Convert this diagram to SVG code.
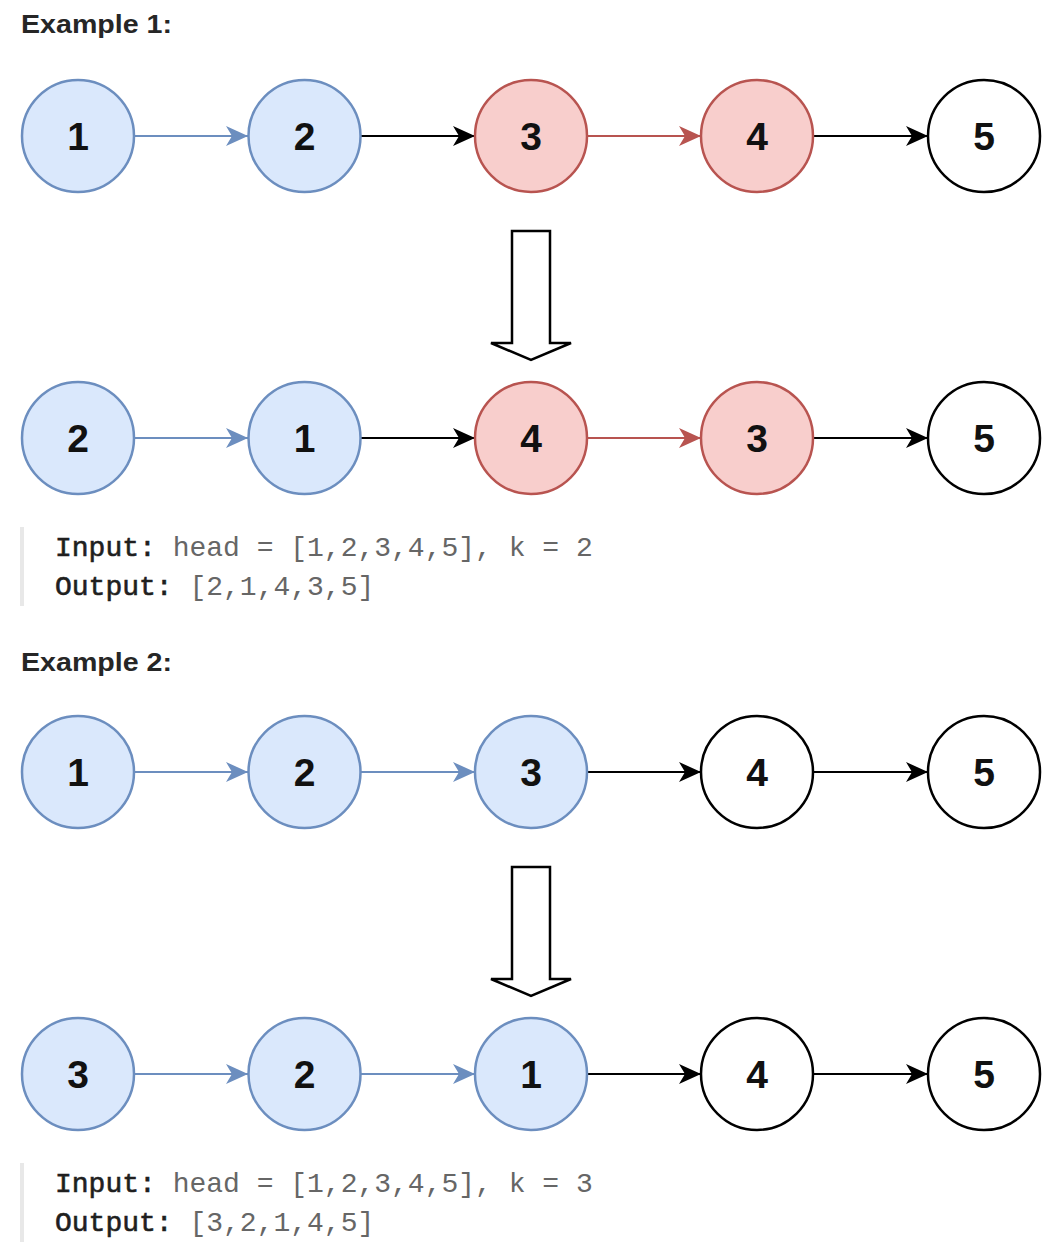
<svg xmlns="http://www.w3.org/2000/svg" width="1060" height="1250" viewBox="0 0 1060 1250">
  <style>
    .heading { font-family: "Liberation Sans", Arial, sans-serif; font-weight: bold; font-size: 25px; fill: #262626; }
    .num { font-family: "Liberation Sans", Arial, sans-serif; font-weight: bold; font-size: 39px; fill: #111; text-anchor: middle; }
    .blue { fill: #dae8fc; stroke: #6c8ebf; stroke-width: 2.5; }
    .red { fill: #f8cecc; stroke: #b85450; stroke-width: 2.5; }
    .plain { fill: #ffffff; stroke: #000000; stroke-width: 2.5; }
    .link { stroke-width: 2.2; fill: none; }
    .lb { stroke: #6c8ebf; marker-end: url(#head-blue); }
    .lr { stroke: #b85450; marker-end: url(#head-red); }
    .lk { stroke: #000000; marker-end: url(#head-black); }
    .bigarrow { fill: #ffffff; stroke: #000000; stroke-width: 2.5; stroke-linejoin: miter; }
    .code { font-family: "Liberation Mono", "Courier New", monospace; font-size: 28px; fill: #666666; }
    .label { fill: #1f1f1f; stroke: #1f1f1f; stroke-width: 0.6; }
    .bar { fill: #e8e8e8; }
  </style>
  <defs>
    <marker id="head-blue" markerUnits="userSpaceOnUse" markerWidth="24" markerHeight="22" viewBox="0 0 24 22" refX="23" refY="11" orient="auto">
      <path d="M1,1 L23,11 L1,21 L7,11 Z" fill="#6c8ebf"/>
    </marker>
    <marker id="head-red" markerUnits="userSpaceOnUse" markerWidth="24" markerHeight="22" viewBox="0 0 24 22" refX="23" refY="11" orient="auto">
      <path d="M1,1 L23,11 L1,21 L7,11 Z" fill="#b85450"/>
    </marker>
    <marker id="head-black" markerUnits="userSpaceOnUse" markerWidth="24" markerHeight="22" viewBox="0 0 24 22" refX="23" refY="11" orient="auto">
      <path d="M1,1 L23,11 L1,21 L7,11 Z" fill="#000000"/>
    </marker>
  </defs>
  <rect width="1060" height="1250" fill="#ffffff"/>

  <!-- Example 1 -->
  <text class="heading" x="21" y="33" textLength="151" lengthAdjust="spacingAndGlyphs">Example 1:</text>

  <g id="connectors">
    <!-- row 1 -->
    <line class="link lb" x1="135" y1="136" x2="248" y2="136"/>
    <line class="link lk" x1="361" y1="136" x2="475" y2="136"/>
    <line class="link lr" x1="587" y1="136" x2="701" y2="136"/>
    <line class="link lk" x1="813" y1="136" x2="928" y2="136"/>
    <!-- row 2 -->
    <line class="link lb" x1="135" y1="438" x2="248" y2="438"/>
    <line class="link lk" x1="361" y1="438" x2="475" y2="438"/>
    <line class="link lr" x1="587" y1="438" x2="701" y2="438"/>
    <line class="link lk" x1="813" y1="438" x2="928" y2="438"/>
    <!-- row 3 -->
    <line class="link lb" x1="135" y1="772" x2="248" y2="772"/>
    <line class="link lb" x1="361" y1="772" x2="475" y2="772"/>
    <line class="link lk" x1="587" y1="772" x2="701" y2="772"/>
    <line class="link lk" x1="813" y1="772" x2="928" y2="772"/>
    <!-- row 4 -->
    <line class="link lb" x1="135" y1="1074" x2="248" y2="1074"/>
    <line class="link lb" x1="361" y1="1074" x2="475" y2="1074"/>
    <line class="link lk" x1="587" y1="1074" x2="701" y2="1074"/>
    <line class="link lk" x1="813" y1="1074" x2="928" y2="1074"/>
  </g>

  <!-- row 1: 1 2 3 4 5 -->
  <g id="r1n1"><circle class="blue" cx="78" cy="136" r="56"/><text class="num" x="78" y="150">1</text></g>
  <g id="r1n2"><circle class="blue" cx="304.5" cy="136" r="56"/><text class="num" x="304.5" y="150">2</text></g>
  <g id="r1n3"><circle class="red" cx="531" cy="136" r="56"/><text class="num" x="531" y="150">3</text></g>
  <g id="r1n4"><circle class="red" cx="757" cy="136" r="56"/><text class="num" x="757" y="150">4</text></g>
  <g id="r1n5"><circle class="plain" cx="984" cy="136" r="56"/><text class="num" x="984" y="150">5</text></g>

  <g id="transform1">
    <path class="bigarrow" d="M512,231 L550,231 L550,343 L571,343 L531,360 L491,343 L512,343 Z"/>
  </g>

  <!-- row 2: 2 1 4 3 5 -->
  <g id="r2n1"><circle class="blue" cx="78" cy="438" r="56"/><text class="num" x="78" y="452">2</text></g>
  <g id="r2n2"><circle class="blue" cx="304.5" cy="438" r="56"/><text class="num" x="304.5" y="452">1</text></g>
  <g id="r2n3"><circle class="red" cx="531" cy="438" r="56"/><text class="num" x="531" y="452">4</text></g>
  <g id="r2n4"><circle class="red" cx="757" cy="438" r="56"/><text class="num" x="757" y="452">3</text></g>
  <g id="r2n5"><circle class="plain" cx="984" cy="438" r="56"/><text class="num" x="984" y="452">5</text></g>

  <g id="code1">
    <rect class="bar" x="20" y="527" width="4" height="79"/>
    <text class="code" x="55" y="556"><tspan class="label">Input:</tspan> head = [1,2,3,4,5], k = 2</text>
    <text class="code" x="55" y="595"><tspan class="label">Output:</tspan> [2,1,4,3,5]</text>
  </g>

  <!-- Example 2 -->
  <text class="heading" x="21" y="671" textLength="151" lengthAdjust="spacingAndGlyphs">Example 2:</text>

  <!-- row 3: 1 2 3 4 5 -->
  <g id="r3n1"><circle class="blue" cx="78" cy="772" r="56"/><text class="num" x="78" y="786">1</text></g>
  <g id="r3n2"><circle class="blue" cx="304.5" cy="772" r="56"/><text class="num" x="304.5" y="786">2</text></g>
  <g id="r3n3"><circle class="blue" cx="531" cy="772" r="56"/><text class="num" x="531" y="786">3</text></g>
  <g id="r3n4"><circle class="plain" cx="757" cy="772" r="56"/><text class="num" x="757" y="786">4</text></g>
  <g id="r3n5"><circle class="plain" cx="984" cy="772" r="56"/><text class="num" x="984" y="786">5</text></g>

  <g id="transform2">
    <path class="bigarrow" d="M512,867 L550,867 L550,979 L571,979 L531,996 L491,979 L512,979 Z"/>
  </g>

  <!-- row 4: 3 2 1 4 5 -->
  <g id="r4n1"><circle class="blue" cx="78" cy="1074" r="56"/><text class="num" x="78" y="1088">3</text></g>
  <g id="r4n2"><circle class="blue" cx="304.5" cy="1074" r="56"/><text class="num" x="304.5" y="1088">2</text></g>
  <g id="r4n3"><circle class="blue" cx="531" cy="1074" r="56"/><text class="num" x="531" y="1088">1</text></g>
  <g id="r4n4"><circle class="plain" cx="757" cy="1074" r="56"/><text class="num" x="757" y="1088">4</text></g>
  <g id="r4n5"><circle class="plain" cx="984" cy="1074" r="56"/><text class="num" x="984" y="1088">5</text></g>

  <g id="code2">
    <rect class="bar" x="20" y="1163" width="4" height="79"/>
    <text class="code" x="55" y="1192"><tspan class="label">Input:</tspan> head = [1,2,3,4,5], k = 3</text>
    <text class="code" x="55" y="1231"><tspan class="label">Output:</tspan> [3,2,1,4,5]</text>
  </g>
</svg>
